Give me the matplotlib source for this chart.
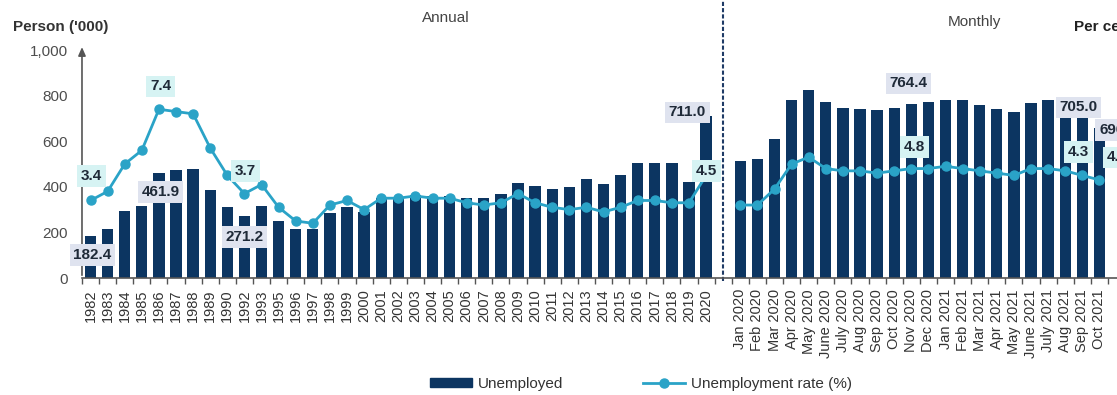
import numpy as np
import matplotlib
matplotlib.use("Agg")
import matplotlib.pyplot as plt
from matplotlib.lines import Line2D
from matplotlib.patches import Patch

plt.rcParams['font.family'] = ['Liberation Sans', 'DejaVu Sans']

# Annual data ('000 persons and rate %)
years = ['1982', '1983', '1984', '1985', '1986', '1987', '1988', '1989', '1990',
         '1992', '1993', '1995', '1996', '1997', '1998', '1999', '2000', '2001',
         '2002', '2003', '2004', '2005', '2006', '2007', '2008', '2009', '2010',
         '2011', '2012', '2013', '2014', '2015', '2016', '2017', '2018', '2019', '2020']
annual_unemployed = [182.4, 217, 295, 316, 461.9, 473, 480, 388, 312,
                     271.2, 316, 248, 217, 214, 284, 312, 290, 353,
                     353, 363, 359, 359, 353, 350, 368, 417, 403,
                     389, 400, 435, 411, 451, 505, 505, 505, 420, 711.0]
annual_rate = [3.4, 3.8, 5.0, 5.6, 7.4, 7.3, 7.2, 5.7, 4.5,
               3.7, 4.1, 3.1, 2.5, 2.4, 3.2, 3.4, 3.0, 3.5,
               3.5, 3.6, 3.5, 3.5, 3.3, 3.2, 3.3, 3.7, 3.3,
               3.1, 3.0, 3.1, 2.9, 3.1, 3.4, 3.4, 3.3, 3.3, 4.5]

# Monthly data
months = ['Jan 2020', 'Feb 2020', 'Mar 2020', 'Apr 2020', 'May 2020', 'June 2020',
          'July 2020', 'Aug 2020', 'Sep 2020', 'Oct 2020', 'Nov 2020', 'Dec 2020',
          'Jan 2021', 'Feb 2021', 'Mar 2021', 'Apr 2021', 'May 2021', 'June 2021',
          'July 2021', 'Aug 2021', 'Sep 2021', 'Oct 2021']
monthly_unemployed = [515, 524, 611, 779, 823, 772, 745, 740, 735, 747, 764.4, 772,
                      782, 779, 757, 743, 728, 769, 782, 740, 705.0, 660]
monthly_rate = [3.2, 3.2, 3.9, 5.0, 5.3, 4.8, 4.7, 4.7, 4.6, 4.7, 4.8, 4.8,
                4.9, 4.8, 4.7, 4.6, 4.5, 4.8, 4.8, 4.7, 4.5, 4.3]

BAR = '#0c3561'
LINE = '#2aa3c7'
BOX_BAR = '#dfe3ef'
BOX_RATE = '#d6f3f3'

n_a = len(years)
x_a = np.arange(n_a)
x_m = np.arange(n_a + 1, n_a + 1 + len(months))
gap = n_a

fig = plt.figure(figsize=(11.17, 3.95), dpi=100)
fig.patch.set_facecolor('white')
ax = fig.add_axes([0.0734, 0.2962, 0.9338, 0.5772])
ax.set_xlim(-0.47, 60.5)
ax.set_ylim(0, 1000)

ax.bar(x_a, annual_unemployed, width=0.66, color=BAR, zorder=2)
ax.bar(x_m, monthly_unemployed, width=0.66, color=BAR, zorder=2)

ax2 = ax.twinx()
ax2.set_ylim(0, 10)
ax2.plot(x_a, annual_rate, color=LINE, lw=2, marker='o', ms=6.5, zorder=3)
ax2.plot(x_m, monthly_rate, color=LINE, lw=2, marker='o', ms=6.5, zorder=3)
ax2.axis('off')

# divider between annual and monthly
ax.plot([gap, gap], [-15, 1220], color='#1f3b66', lw=1.5, ls=(0, (2, 1)),
        clip_on=False, zorder=1)

# axes styling
for s in ['top', 'right', 'left']:
    ax.spines[s].set_visible(False)
ax.spines['bottom'].set_color('#555555')
ax.spines['bottom'].set_linewidth(1.2)
ax.annotate('', xy=(0, 1025), xytext=(0, 0),
            xycoords=('axes fraction', 'data'), textcoords=('axes fraction', 'data'),
            arrowprops=dict(arrowstyle='-|>,head_length=0.5,head_width=0.22',
                            color='#555555', lw=1.2), annotation_clip=False)
ax.set_yticks([0, 200, 400, 600, 800, 1000])
ax.set_yticklabels(['0', '200', '400', '600', '800', '1,000'])
ax.tick_params(axis='y', length=0, pad=10, labelsize=11, labelcolor='#4d4d4d')

ax.set_xticks(list(x_a) + list(x_m))
ax.set_xticklabels(years + months, rotation=90)
ax.set_xticks(np.arange(-0.5, 60.5, 1), minor=True)
ax.tick_params(axis='x', which='major', length=0, pad=8, labelsize=10.5,
               labelcolor='#333333')
ax.tick_params(axis='x', which='minor', length=4, width=1, color='#555555')

# data labels: (axis, x, y, text, offset in points, box colour)
labels = [
    (ax, x_a[0], annual_unemployed[0], '182.4', (1.4, -13.4), BOX_BAR),
    (ax2, x_a[0], annual_rate[0], '3.4', (0.7, 17.5), BOX_RATE),
    (ax2, x_a[4], annual_rate[4], '7.4', (1.2, 16.5), BOX_RATE),
    (ax, x_a[4], annual_unemployed[4], '461.9', (1.2, -14), BOX_BAR),
    (ax2, x_a[9], annual_rate[9], '3.7', (0.8, 16.2), BOX_RATE),
    (ax, x_a[9], annual_unemployed[9], '271.2', (0, -15), BOX_BAR),
    (ax, x_a[36], annual_unemployed[36], '711.0', (-13.4, 2.5), BOX_BAR),
    (ax2, x_a[36], annual_rate[36], '4.5', (0.3, 3.0), BOX_RATE),
    (ax, x_m[10], monthly_unemployed[10], '764.4', (-2, 14.6), BOX_BAR),
    (ax2, x_m[10], monthly_rate[10], '4.8', (2.3, 15.3), BOX_RATE),
    (ax, x_m[20], monthly_unemployed[20], '705.0', (-2.7, 7.1), BOX_BAR),
    (ax2, x_m[20], monthly_rate[20], '4.3', (-2.7, 16.7), BOX_RATE),
    (ax, x_m[21], monthly_unemployed[21], '696.2', (13.5, -2), BOX_BAR),
    (ax2, x_m[21], monthly_rate[21], '4.3', (13.0, 16.3), BOX_RATE),
]
for a, x, y, t, off, fc in labels:
    ax2.annotate(t, xy=(x, y), xycoords=a.transData, xytext=off,
                 textcoords='offset points', ha='center', va='center',
                 fontsize=11, fontweight='bold', color='#1f2a38', zorder=10,
                 annotation_clip=False,
                 bbox=dict(boxstyle='square,pad=0.25', fc=fc, ec='none'))

# titles / section headers
fig.text(0.0116, 0.9316, "Person ('000)", fontsize=11, fontweight='bold',
         color='#333333', va='center')
fig.text(0.3778, 0.954, 'Annual', fontsize=11, color='#444444', va='center')
fig.text(0.8487, 0.944, 'Monthly', fontsize=11, color='#444444', va='center')
fig.text(0.9615, 0.932, 'Per cent', fontsize=11, fontweight='bold',
         color='#222222', va='center')

handles = [Patch(color=BAR),
           Line2D([], [], color=LINE, lw=2, marker='o', ms=6.5)]
fig.legend(handles, ['Unemployed', 'Unemployment rate (%)'], loc='center left',
           bbox_to_anchor=(0.385, 0.028), ncol=2, frameon=False, fontsize=11,
           handlelength=2.75, handleheight=0.55, handletextpad=0.4,
           columnspacing=5.2, borderpad=0, borderaxespad=0, labelcolor='#333333')

fig.savefig('out.png', dpi=100)
